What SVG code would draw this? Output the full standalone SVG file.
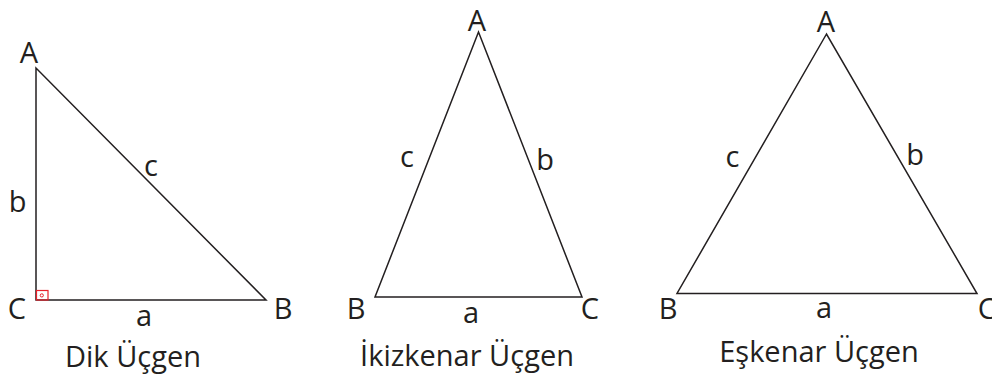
<svg xmlns="http://www.w3.org/2000/svg" width="992" height="374" viewBox="0 0 992 374">
<style>
.t{font-family:"Open Sans","Noto Sans",sans-serif;font-size:29px;fill:#231f20;text-anchor:middle}
.e{fill:none;stroke:#231f20;stroke-width:1.5;stroke-linejoin:miter}
</style>
<rect width="992" height="374" fill="#fff"/>
<g id="connectors">
<polygon class="e" points="36,68 36,300 266,300"/>
<polygon class="e" points="478.5,32 375,297 582,297"/>
<polygon class="e" points="826.5,34 677,293.5 977,293.5"/>
</g>
<g id="right-angle">
<rect x="36.5" y="290.5" width="11.5" height="9.5" fill="none" stroke="#e8202a" stroke-width="1.2"/>
<circle cx="41.8" cy="295.4" r="1.6" fill="none" stroke="#e8202a" stroke-width="1"/>
</g>
<g id="dik">
<text class="t" x="29" y="63">A</text>
<text class="t" x="17" y="319">C</text>
<text class="t" x="283" y="319">B</text>
<text class="t" x="144" y="326">a</text>
<text class="t" x="17.5" y="212">b</text>
<text class="t" x="151" y="176">c</text>
<text class="t" x="133" y="367">Dik Üçgen</text>
</g>
<g id="ikizkenar">
<text class="t" x="477" y="31">A</text>
<text class="t" x="356" y="319">B</text>
<text class="t" x="590" y="319">C</text>
<text class="t" x="471" y="323">a</text>
<text class="t" x="407" y="167">c</text>
<text class="t" x="545" y="170">b</text>
<text class="t" x="467" y="366">İkizkenar Üçgen</text>
</g>
<g id="eskenar">
<text class="t" x="826" y="32">A</text>
<text class="t" x="668" y="319">B</text>
<text class="t" x="987" y="319">C</text>
<text class="t" x="824" y="318">a</text>
<text class="t" x="732.5" y="167">c</text>
<text class="t" x="915" y="165">b</text>
<text class="t" x="819" y="362">Eşkenar Üçgen</text>
</g>
</svg>
